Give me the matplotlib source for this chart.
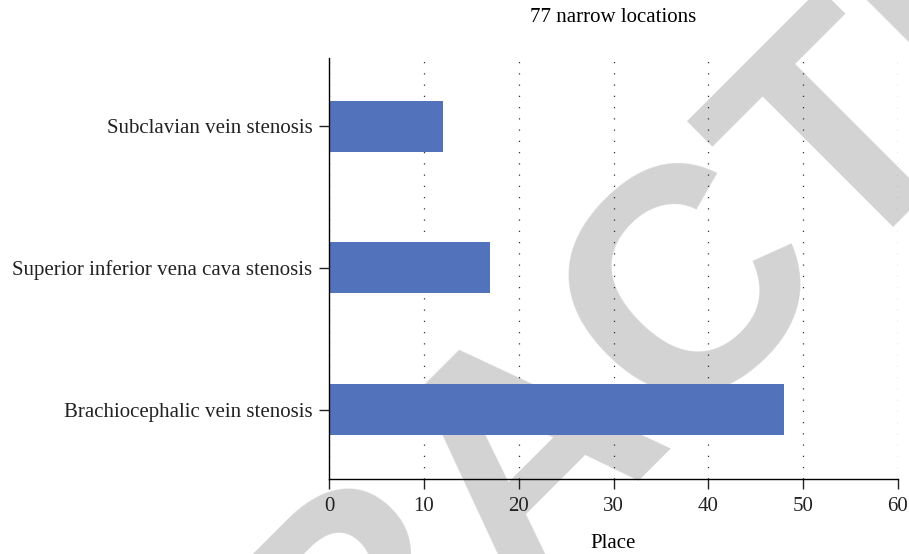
import numpy as np
import matplotlib.pyplot as plt

# data
categories = ['Brachiocephalic vein stenosis',
              'Superior inferior vena cava stenosis',
              'Subclavian vein stenosis']
counts = [48, 17, 12]
x_ticks = [0, 10, 20, 30, 40, 50, 60]

plt.rcParams['font.family'] = ['Liberation Serif', 'DejaVu Serif']

fig = plt.figure(figsize=(9.09, 5.54), dpi=100)
ax = fig.add_axes([329/909, 1-479/554, 569/909, 421/554])
ax.patch.set_alpha(0)

y = np.arange(len(categories))
ax.barh(y, counts, height=0.36, color='#5273bb', zorder=2)

ax.set_xlim(0, 60)
ax.set_ylim(-0.49, 2.48)
ax.set_xticks(x_ticks)
ax.set_yticks(y)
ax.set_yticklabels(categories)
ax.tick_params(labelsize=15, length=7, width=1, colors='#222222')
ax.tick_params(axis='y', pad=5)
ax.tick_params(axis='x', pad=6)
ax.xaxis.grid(True, linestyle=(0, (1, 8)), color='#333333', linewidth=0.9, zorder=1)
ax.set_axisbelow(True)

for s in ['top', 'right']:
    ax.spines[s].set_visible(False)
for s in ['left', 'bottom']:
    ax.spines[s].set_linewidth(1)

ax.set_xlabel('Place', fontsize=15, labelpad=13)
ax.set_title('77 narrow locations', fontsize=15, pad=26)

# watermark
ax.text(0.585, 1-450/554, 'RETRACTED', transform=fig.transFigure,
        rotation=45, ha='center', va='center', fontsize=230,
        family='Liberation Sans', fontweight='bold', color='#d3d3d3',
        zorder=0, clip_on=False, rotation_mode='anchor')

fig.savefig('out.png', dpi=100)
